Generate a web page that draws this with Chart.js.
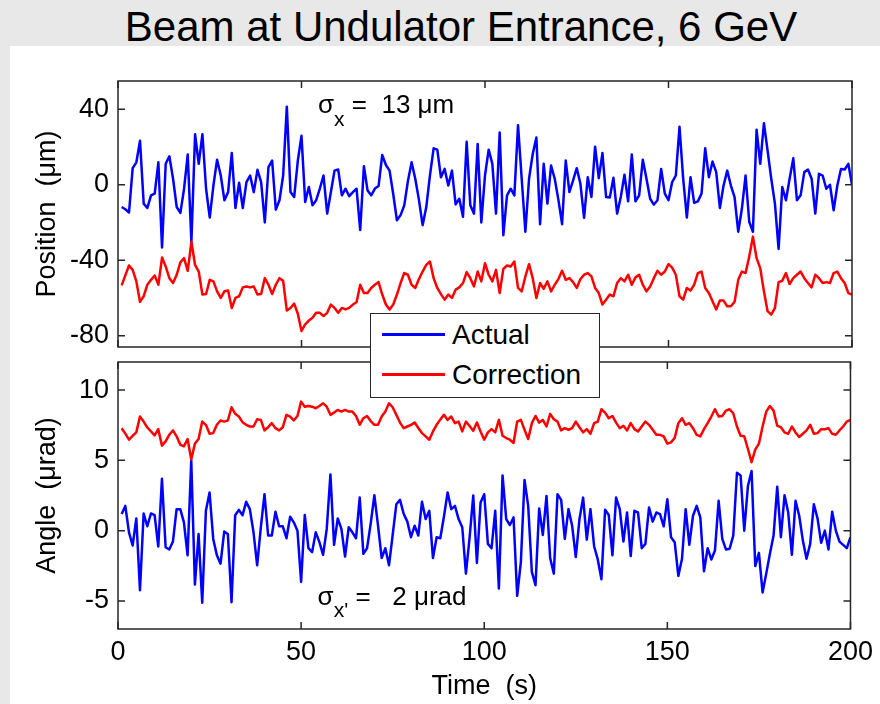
<!DOCTYPE html>
<html>
<head>
<meta charset="utf-8">
<script src="https://cdn.jsdelivr.net/npm/chart.js@4.4.1/dist/chart.umd.min.js"></script>
<style>
  html, body { margin: 0; padding: 0; }
  body {
    width: 880px; height: 704px; position: relative; overflow: hidden;
    background: #e8e8e8; font-family: "Liberation Sans", Arial, sans-serif; color: #000;
  }
  #sheet { position: absolute; left: 10px; top: 46px; width: 870px; height: 658px; background: #fff; }
  #title { position: absolute; left: 0; top: 6px; width: 922px; text-align: center; font-size: 42px; line-height: 1; }
  canvas { position: absolute; left: 0; }
  #posChart { top: 46px; }
  #angChart { top: 330px; }
  #legend {
    position: absolute; left: 370px; top: 313px; width: 230px; height: 85px;
    box-sizing: border-box; border: 1.5px solid #262626; background: #fff; z-index: 5;
  }
  #legend .swatch { position: absolute; left: 11px; width: 63px; height: 2.5px; }
  #legend .name { position: absolute; left: 81px; font-size: 28px; line-height: 40px; white-space: nowrap; }
</style>
</head>
<body>
<div id="sheet"></div>
<div id="title">Beam at Undulator Entrance, 6 GeV</div>
<canvas id="posChart" width="880" height="334"></canvas>
<canvas id="angChart" width="880" height="374"></canvas>
<div id="legend"></div>
<script>
// values, one sample per second (t = 1 .. 200)
const seriesNames = ["Actual", "Correction"];
const seriesColors = ["#0000ff", "#ff0000"];

const posActual = [
  -11.8, -13, -14.7, 8.8, 11.9, 23.3, -10, -12.3, -5.6, -4.7, 11.9, -33.2, 11.1, 15.1, 3.2, -11.8, -14.9, -2.1, 16, -30.2,
  26.8, 11.1, 26.8, -2.1, -17.4, -0.4, 13.3, 4.9, -8.2, -3.9, 16.8, -12.3, 1.1, -12.3, 1.4, 4.9, -3.9, 7.9, 1.4, -20,
  9.3, 12.8, -13.2, -8.2, 4.9, 41.4, -3.9, -6.5, 12.8,
  26, -9.1, -1.2, -10.9, -8.2, -2, 4.9, -15.3, -4, 7.5, 8.1, -5.6, -2.1, -6, -3.9, -2.1, -24, 9.8, -3, -5.6,
  -2, -0.7, 15.8, 10.5, 7.5, -5, -18.8, -16.1, -10.9, 2, 11.9, 3.2, -8, -21.4, -11.8, 5, 19.3, 18.6, 4, 8.4,
  -0.4, 7.5, -10.4, -7.4, -17, 22.8, -10.9, -15.3, 21.6, -20,
  5, 18.6, 11.1, -15.3, 27.7, -26.7, -5.6, -2.1, -5.6, 31.6, 3.2, -24.9, 3.2, 16.3, 25.1, -20.9, 11.1, -10, 10.2, 3.2,
  -8, -20.9, 12.8, -3.9, 2.3, 8.8, 0.5, -17.5, 4, -6.5, 20.2, 3.5, 16.8, -6.5, -6.8, 3.7, -15.3, -6.5, 5.3, -8.8,
  16, -8.8, -5.6, 13.3, 3.2, -7.4, -10.5, -8.2, 8.4, -4.7,
  -8.2, 1.4, 4.9, 30.7, 3.2, -17.4, 4, -9.6, -8.8, -4.7, 19.3, 4, 12.3, 6.7, -12.3, -0.4, 7.5, -0.4, -6.5, -24.9,
  -12.6, 4.9, -19.6, -24.9, 29.1, 11.1, 32.6, 18.1, 3.2, -10, -34, -1.2, -8.2, 3.2, 14, -8.2, -5.6, 6.7, 8.1, 3.2,
  -15.3, 5.8, 4.9, -2.1, 0, -13.5, -0.4, 8.4, 8.1, 11.1, 0
];
const posCorrection = [
  -53.3, -48, -42.8, -45.1, -51.2, -62.1, -59.1, -53, -50.4, -48.1, -53, -38.6, -43.3, -49.5, -52.1, -47.7, -41.1, -38.9, -45.6, -30.2,
  -42.5, -46, -58.2, -57.9, -50.4, -51.2, -56.5, -60, -56.5, -56.1, -65.3, -60, -59.1, -54.4, -53.9, -54.4, -53.9, -58.2, -57.9, -49.5,
  -53, -57.9, -53, -49.5, -50.9, -66.7, -65.3, -63, -68.4,
  -77.5, -74, -72, -70.5, -67.9, -67.9, -69.6, -67.9, -63.5, -65.3, -67.9, -65.3, -66.1, -65.3, -63.5, -62.3, -53, -57.4, -57.4, -54.7,
  -53, -51.6, -58.2, -63.5, -66.1, -63.5, -58.2, -52.1, -46.8, -47.7, -53, -54.7, -50, -46, -42.5, -40.7, -49.5, -54.7, -58, -60.9,
  -58.2, -60, -55.6, -54.4, -52.1, -46.3, -49.5, -53.9, -46, -51.2,
  -41.6, -47.7, -51.2, -45.1, -57.4, -44.6, -42.8, -43.3, -40.7, -54.7, -56.5, -48.6, -42.1, -49.5, -60, -52.1, -55.1, -51.2, -56.5, -53,
  -50, -45.6, -50.4, -49.5, -51.6, -54.7, -50, -47.7, -46.8, -48.6, -54.7, -57.4, -63.5, -60.9, -58.2, -59.1, -52.1, -49.5, -51.2, -47.7,
  -53, -49.1, -47.7, -53, -56.5, -53.9, -49.5, -45.6, -47.7, -46,
  -42.1, -43.9, -47.7, -59.1, -60.9, -54.7, -56.1, -53, -46.8, -46, -54.7, -57.4, -61.8, -66.1, -61.4, -61.4, -64.4, -64.4, -62.1, -50.4,
  -46, -46.8, -38.1, -27.5, -38.9, -44.2, -56.5, -67, -68.8, -65.3, -51.6, -50.9, -46.8, -52.6, -49.5, -47.7, -46, -49.5, -52.1, -54.4,
  -47.7, -49.5, -52.1, -51.6, -52.1, -46.8, -46, -49.5, -52.1, -57.4, -58.2
];
const angActual = [
  1.18, 1.76, -0.12, -1.06, 0.87, -4.24, 1.22, 0.31, 1.22, 1.1, -1.13, 3.69, -1.18, -1.34, -0.78, 1.53, 1.53, 0.59, -1.76, 5.01,
  -3.84, -0.24, -5.13, 1.41, 2.71, -0.59, -1.76, -2.35, -0.07, -0.24, -5.1, 1.1, 1.48, 1.1, 2.05, 1.53, -0.12, -2.47, 0.24, 2.59,
  -0.35, -0.35, 1.34, 0.31, 0.31, -0.54, 0.99, 0.59, 0,
  -3.65, 1.11, -1.25, -1.53, -0.12, -0.82, -1.72, 0.12, 4, -1.01, 0.87, 0.12, -1.84, 0.24, -0.12, -0.54, 2.35, -1.65, -1.25, 0.5,
  2.52, 0.35, -1.95, -1.25, -2.47, -0.3, 1.88, 2.19, 1.2, 0.64, -0.47, 0.35, -0.35, 2.05, 0.82, 1.41, -1.95, -0.47, -0.54, 1,
  2.71, 1.53, 1.76, 0.82, 0.24, -3.06, -0.5, 2.5, -2.3, 2,
  2.59, -0.94, -1.25, 1.41, -4.12, 3.93, 0.82, 0.4, 0.94, -4.64, -2.24, 3.6, 1.76, -2.94, -3.88, 1.58, -0.31, 2.47, -1.95, -3.06,
  2.59, 2.19, -0.59, 1.53, 0.35, -1.88, 0.82, 2.35, -0.64, 1.53, -1.11, -2.05, -3.46, 1.48, 1.11, -1.76, 2.35, 1.53, -0.78, 1.29,
  -1.81, 1.41, 1.29, -1.25, -0.94, 1.65, 0.64, 1.29, 1.18, 0.31,
  2.24, -0.47, -0.82, -3.22, -2, 1.53, -1.01, 1.06, 1.76, 0.94, -2.89, -1.25, -2.05, -1.41, 2.12, -0.59, -1.34, -1.29, -0.35, 4.12,
  3.93, 0, 3.18, 4.24, -2.52, -1.58, -4.4, -3.06, -1.65, -0.35, 3.13, -0.47, 2.52, 1.29, -1.72, 2.12, 1.06, -0.71, -2, -0.94,
  1.88, 0.87, -0.87, 0, -1.34, 1.34, 0, -0.78, -1.01, -1.25, -0.47
];
const angCorrection = [
  7.29, 6.9, 6.47, 6.75, 6.99, 8.12, 7.76, 7.34, 7.06, 6.78, 7.22, 6.05, 6.35, 6.82, 7.13, 6.71, 6.12, 6, 6.52, 5.06,
  6.19, 6.52, 7.76, 7.53, 6.89, 6.94, 7.53, 7.84, 7.76, 7.84, 8.78, 8.31, 8.12, 7.72, 7.53, 7.41, 7.41, 7.93, 7.88, 7.13,
  7.36, 7.65, 7.29, 7.13, 7.36, 8.24, 8.12, 7.84, 8.16,
  9.18, 8.82, 8.87, 8.82, 8.71, 8.87, 9.06, 8.82, 8.24, 8.4, 8.59, 8.47, 8.59, 8.47, 8.47, 8.16, 7.53, 8, 8.16, 7.8,
  7.53, 7.53, 8.12, 8.47, 9.06, 8.78, 8.24, 7.69, 7.29, 7.41, 7.53, 7.69, 7.3, 6.94, 6.71, 6.47, 7.06, 7.53, 7.9, 8.24,
  7.88, 8.12, 7.65, 7.76, 7.06, 7.76, 7.45, 7.1, 7.7, 7.06,
  6.47, 6.99, 7.22, 6.99, 7.88, 6.75, 6.59, 6.47, 6.24, 7.76, 7.88, 7.18, 6.52, 7.65, 8.16, 7.69, 7.88, 7.41, 8.31, 7.93,
  7.76, 7.13, 7.29, 7.18, 7.29, 7.76, 7.36, 6.99, 7.22, 6.89, 7.65, 7.76, 8.64, 8.4, 8, 8.16, 7.69, 7.29, 7.46, 7.13,
  7.65, 7.22, 7.06, 7.41, 7.76, 7.53, 7.18, 6.82, 6.82, 6.71,
  6.19, 6.28, 6.59, 7.65, 8, 7.53, 7.65, 7.29, 6.82, 6.71, 7.22, 7.65, 8.12, 8.64, 8.12, 8.16, 8.54, 8.64, 8.35, 7.41,
  6.75, 6.71, 5.81, 4.87, 5.76, 6.19, 7.41, 8.47, 8.87, 8.54, 7.46, 7.36, 6.99, 6.89, 7.41, 6.99, 6.66, 6.89, 7.13, 7.53,
  6.89, 6.94, 7.22, 7.22, 7.29, 6.89, 6.82, 7.13, 7.41, 7.76, 7.88
];

const timeTicks = [0, 50, 100, 150, 200];
const posTicks = [-80, -40, 0, 40];
const angTicks = [-5, 0, 5, 10];

const time = posActual.map((_, i) => i + 1);

const FONT = '"Liberation Sans", Arial, sans-serif';

// MATLAB style box with inward ticks on all four sides
const boxAxes = {
  id: "boxAxes",
  afterDraw(chart, args, opts) {
    const { ctx, chartArea: a } = chart;
    const xs = chart.scales.x, ys = chart.scales.y;
    const len = 7;
    ctx.save();
    ctx.strokeStyle = "#262626";
    ctx.lineWidth = 1.5;
    ctx.beginPath();
    timeTicks.forEach((v) => {
      const p = xs.getPixelForValue(v);
      ctx.moveTo(p, a.bottom); ctx.lineTo(p, a.bottom - len);
      ctx.moveTo(p, a.top); ctx.lineTo(p, a.top + len);
    });
    opts.yTicks.forEach((v) => {
      const p = ys.getPixelForValue(v);
      ctx.moveTo(a.left, p); ctx.lineTo(a.left + len, p);
      ctx.moveTo(a.right, p); ctx.lineTo(a.right - len, p);
    });
    ctx.stroke();
    ctx.strokeRect(a.left, a.top, a.right - a.left, a.bottom - a.top);
    ctx.restore();
  },
};

// sigma annotation with a subscript, placed at data coordinates
const noteText = {
  id: "noteText",
  afterDatasetsDraw(chart, args, opts) {
    const { ctx } = chart;
    let px = chart.scales.x.getPixelForValue(opts.x);
    const py = chart.scales.y.getPixelForValue(opts.y);
    ctx.save();
    ctx.fillStyle = "#000";
    ctx.textBaseline = "alphabetic";
    ctx.textAlign = "left";
    opts.parts.forEach((p) => {
      ctx.font = `${p.size}px ${FONT}`;
      ctx.fillText(p.text, px, py + p.dy);
      px += ctx.measureText(p.text).width;
    });
    ctx.restore();
  },
};

function panel(canvasId, actual, correction, yMin, yMax, yTicks, yTitle, showTime, note, pad) {
  const values = [actual, correction];
  return new Chart(document.getElementById(canvasId), {
    type: "line",
    data: {
      datasets: values.map((vals, i) => ({
        label: seriesNames[i],
        data: vals.map((v, j) => ({ x: time[j], y: v })),
        borderColor: seriesColors[i],
        borderWidth: 2.5,
        borderJoinStyle: "round",
        pointRadius: 0,
        tension: 0,
        fill: false,
        order: values.length - i,
      })),
    },
    options: {
      responsive: false,
      animation: false,
      events: [],
      layout: { padding: pad },
      scales: {
        x: {
          type: "linear",
          min: 0,
          max: 200,
          display: showTime,
          afterBuildTicks: (s) => { s.ticks = timeTicks.map((v) => ({ value: v })); },
          afterFit: (s) => { if (showTime) s.height = 75; },
          grid: { display: false, drawTicks: false },
          border: { display: false },
          ticks: { color: "#000", font: { family: FONT, size: 27 }, padding: 7, maxRotation: 0, autoSkip: false },
          title: {
            display: true,
            text: "Time  (s)",
            color: "#000",
            font: { family: FONT, size: 27 },
            padding: { top: 0, bottom: 1 },
          },
        },
        y: {
          type: "linear",
          min: yMin,
          max: yMax,
          afterBuildTicks: (s) => { s.ticks = yTicks.map((v) => ({ value: v })); },
          afterFit: (s) => { s.width = 118; },
          grid: { display: false, drawTicks: false },
          border: { display: false },
          ticks: { color: "#000", font: { family: FONT, size: 27 }, padding: 9 },
          title: {
            display: true,
            text: yTitle,
            color: "#000",
            font: { family: FONT, size: 27 },
            padding: { top: 31, bottom: 0 },
          },
        },
      },
      plugins: {
        legend: { display: false },
        tooltip: { enabled: false },
        boxAxes: { yTicks: yTicks },
        noteText: note,
      },
    },
    plugins: [boxAxes, noteText],
  });
}

panel("posChart", posActual, posCorrection, -86, 55, posTicks, "Position  (\u03bcm)", false,
  { x: 54.5, y: 37.8, parts: [
    { text: "\u03c3", size: 26, dy: 0 },
    { text: "x", size: 21, dy: 13 },
    { text: " =  13 \u03bcm", size: 26, dy: 0 },
  ] },
  { top: 35, right: 28, bottom: 33, left: 0 });

panel("angChart", angActual, angCorrection, -7, 12, angTicks, "Angle  (\u03bcrad)", true,
  { x: 54.5, y: -5.3, parts: [
    { text: "\u03c3", size: 26, dy: 0 },
    { text: "x'", size: 21, dy: 12 },
    { text: " =   2 \u03bcrad", size: 26, dy: 0 },
  ] },
  { top: 32, right: 28, bottom: 0, left: 0 });

// legend shared by both panels
const legend = document.getElementById("legend");
seriesNames.forEach((name, i) => {
  const sw = document.createElement("div");
  sw.className = "swatch";
  sw.style.background = seriesColors[i];
  sw.style.top = (20.5 + 40 * i - 1.25) + "px";
  legend.appendChild(sw);
  const label = document.createElement("div");
  label.className = "name";
  label.style.top = (0.5 + 40 * i) + "px";
  label.textContent = name;
  legend.appendChild(label);
});
</script>
</body>
</html>
